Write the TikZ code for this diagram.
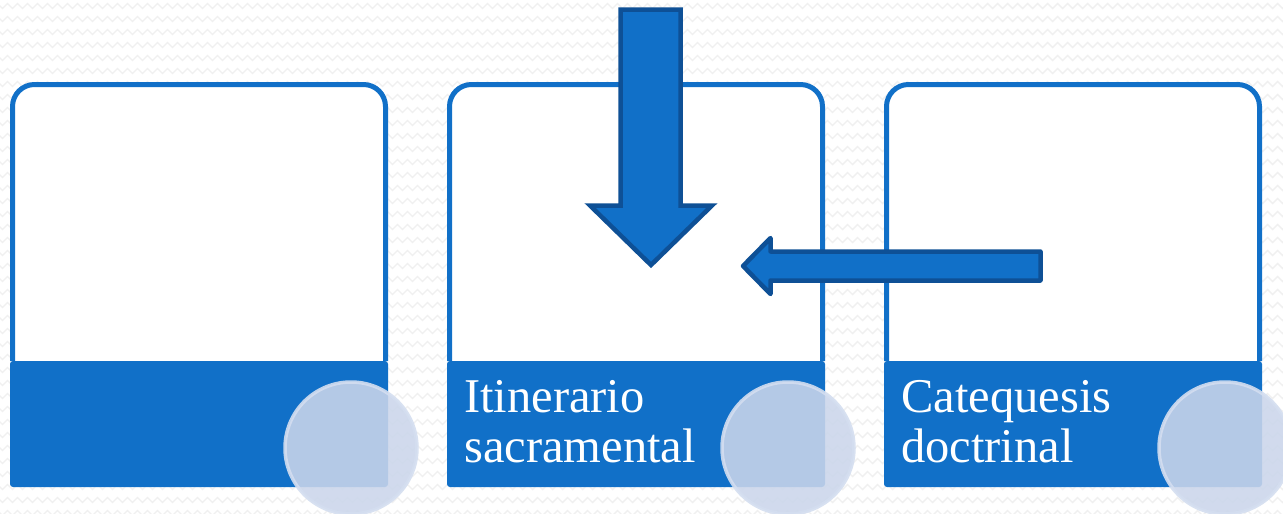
\documentclass[tikz,border=0pt]{standalone}
\usepackage{fontspec}
\setmainfont{Liberation Serif}
\usetikzlibrary{decorations.pathmorphing}
\definecolor{boxblue}{RGB}{17,112,200}
\definecolor{arrowedge}{RGB}{14,80,150}
\definecolor{discfill}{RGB}{203,214,235}
\definecolor{discring}{RGB}{212,222,240}
\definecolor{wavegray}{RGB}{240,240,240}
\tikzset{
  panel/.style={draw=boxblue, line width=5pt, fill=white, rounded corners=22pt},
  band/.style={fill=boxblue, rounded corners=3pt},
  disc/.style={fill=discfill, fill opacity=0.88, draw=discring, draw opacity=0.9, line width=3.5pt},
  blockarrow/.style={fill=boxblue, draw=arrowedge, line width=4.5pt},
  caption/.style={text=white, font=\fontsize{48.5}{50}\selectfont, anchor=base west, inner sep=0pt},
  wave/.style={draw=wavegray, line width=1.4pt, decorate,
    decoration={zigzag, segment length=10pt, amplitude=2.5pt}}
}
\begin{document}
\begin{tikzpicture}[x=1pt, y=-1pt]
  \useasboundingbox (0,0) rectangle (1283,514);
  % textured backdrop
  \fill[white] (0,0) rectangle (1283,514);
  \foreach \r in {6,19,...,514}
    \draw[wave] (-5,\r) -- (1290,\r);

  % three panels: white card, blue caption band, translucent disc
  \foreach \i/\x in {1/0, 2/437, 3/874} {
    \begin{scope}[xshift=\x pt]
      \draw[panel] (12.5,361) -- (12.5,84.5) -- (385.5,84.5) -- (385.5,361);
      \fill[band] (10,361) rectangle (388,487);
      \coordinate (disc\i) at (351,448);
    \end{scope}
  }

  % captions
  \node[caption] (t2a) at (464,412) {Itinerario};
  \node[caption] (t2b) at (464,462) {sacramental};
  \node[caption] (t3a) at (901,412) {Catequesis};
  \node[caption] (t3b) at (901,462) {doctrinal};

  % discs on the lower right corners
  \foreach \i in {1,2,3}
    \path[disc] (disc\i) circle[radius=66];

  % block arrows
  \draw[blockarrow, line join=miter]
    (620.5,9.5) -- (680.5,9.5) -- (680.5,205.5) -- (712,205.5) -- (651,265)
    -- (590,205.5) -- (620.5,205.5) -- cycle;
  \draw[blockarrow, line join=round]
    (743,266) -- (770.5,238) -- (770.5,251.5) -- (1040.5,251.5) -- (1040.5,280.5)
    -- (770.5,280.5) -- (770.5,294) -- cycle;
\end{tikzpicture}
\end{document}
